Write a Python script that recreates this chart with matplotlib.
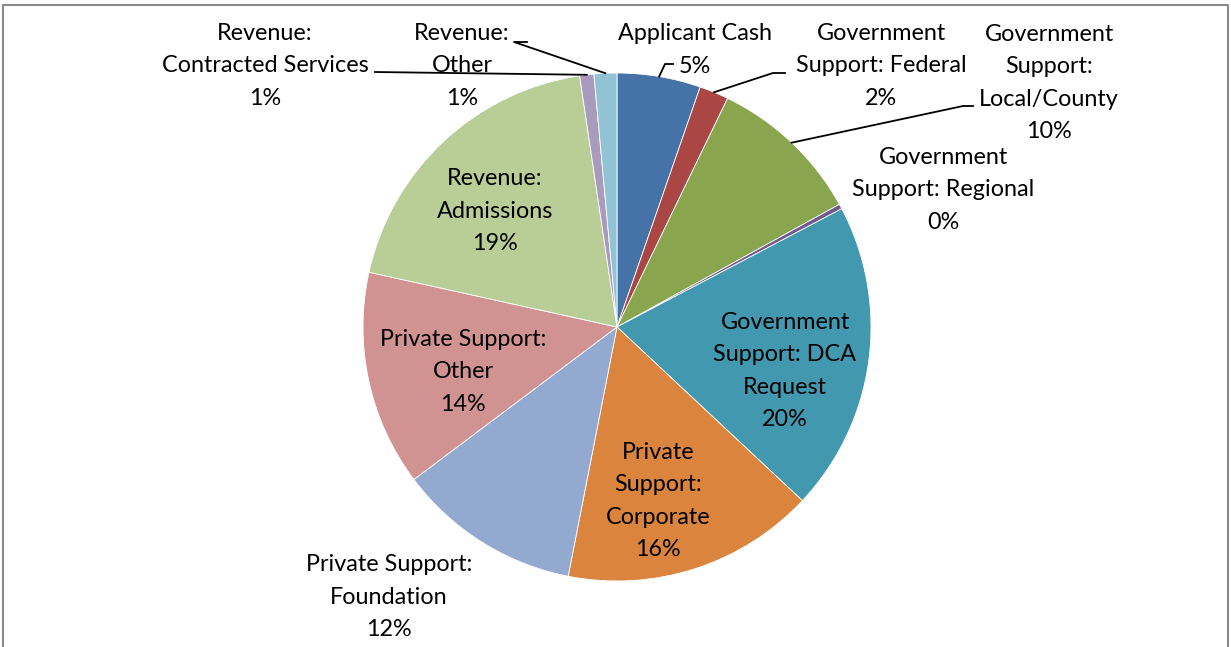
import matplotlib.pyplot as plt
import numpy as np

plt.rcParams['font.family'] = ['Lato', 'DejaVu Sans']

# slices clockwise from 12 o'clock, shares in percent
categories = ['Applicant Cash', 'Government\nSupport: Federal', 'Government\nSupport:\nLocal/County',
              'Government\nSupport: Regional', 'Government\nSupport: DCA\nRequest',
              'Private\nSupport:\nCorporate', 'Private Support:\nFoundation', 'Private Support:\nOther',
              'Revenue:\nAdmissions', 'Revenue:\nContracted Services', 'Revenue:\nOther']
shares = [5.31, 1.86, 9.81, 0.31, 19.69, 16.10, 11.67, 13.71, 19.19, 0.90, 1.45]
colors = ['#4572A7', '#AA4643', '#89A54E', '#71588F', '#4198AF', '#DB843D',
          '#93A9CF', '#D19392', '#B9CD96', '#A99BBD', '#92C3D4']

# label centres (pixels from top-left) and leader-line elbows, layout only
label_pos = [(695, 50), (881, 66), (1049, 83), (943, 190), (785, 371), (658, 501),
             (389, 597), (463, 372), (495, 211), (265, 66), (462, 66)]
leaders = {0: [(673, 64), (665, 64)], 1: [(785, 73), (773, 73)], 2: [(973, 106), (963, 106)],
           9: [(375, 72)], 10: [(527, 42), (514, 42)]}

W, H = 1231, 647
cx, cy, R = 617, 327, 254

fig = plt.figure(figsize=(W / 100, H / 100), dpi=100)
ax = fig.add_axes([0, 0, 1, 1])

# y axis runs downward, so counterclockwise in data is clockwise on screen
wedges, _ = ax.pie(shares, colors=colors, startangle=-90, counterclock=True,
                   center=(cx, cy), radius=R,
                   wedgeprops=dict(edgecolor='white', linewidth=0.6))
ax.set_xlim(0, W)
ax.set_ylim(H, 0)
ax.axis('off')

total = sum(shares)
for i, (name, v) in enumerate(zip(categories, shares)):
    pct = '%d%%' % round(v / total * 100)
    x, y = label_pos[i]
    ax.text(x, y, name + '\n' + pct, ha='center', va='center', fontsize=16.8,
            linespacing=1.66, color='black')

for i, pts in leaders.items():
    w = wedges[i]
    mid = np.deg2rad((w.theta1 + w.theta2) / 2)
    ex, ey = cx + R * np.cos(mid), cy + R * np.sin(mid)
    xs = [p[0] for p in pts] + [ex]
    ys = [p[1] for p in pts] + [ey]
    ax.plot(xs, ys, color='black', lw=1.3)

# chart frame (bottom edge is cut off in the source)
ax.plot([3, 3, 1228, 1228], [H + 10, 5, 5, H + 10], color='#8a8a8a', lw=1.5, clip_on=False)

fig.savefig('out.png', dpi=100)
